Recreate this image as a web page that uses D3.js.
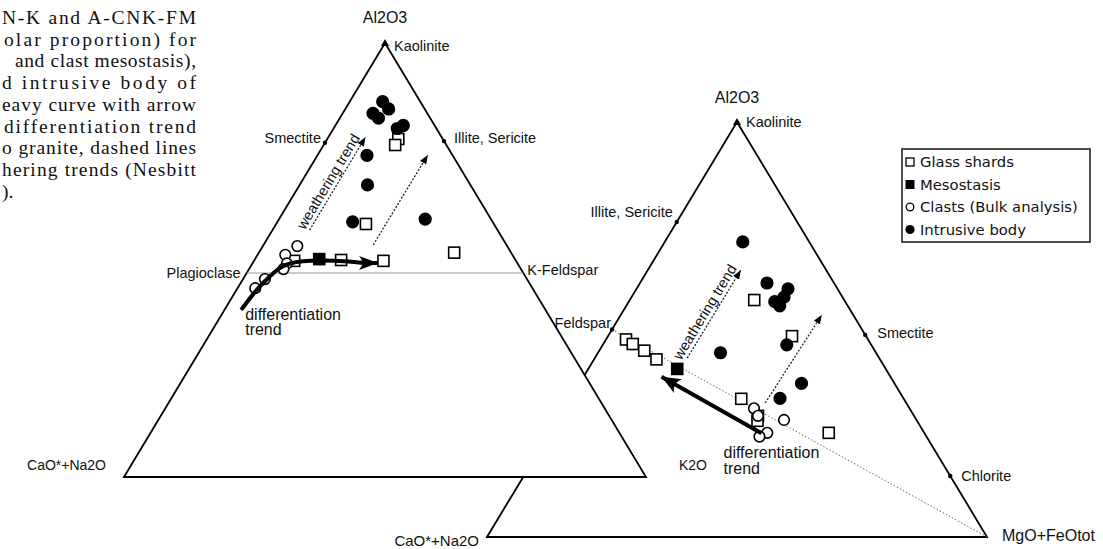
<!DOCTYPE html>
<html><head><meta charset="utf-8">
<script src="https://cdn.jsdelivr.net/npm/d3@7"></script>
<style>body{margin:0;background:#fff}svg{display:block}</style>
</head><body>
<svg id="c" width="1103" height="549"></svg>
<script>
// ================= DATA =================
// Left diagram A-CN-K : Al2O3 (A) and K2O (K) in molar %, CN = 100 - A - K
const acnkGlassA = [77.9, 76.5, 58.3, 51.7, 49.8, 50.0, 49.8];
const acnkGlassK = [13.6, 13.7, 17.2, 37.4, 24.8, 16.6, 7.7];
const acnkMesoA  = [50.2];
const acnkMesoK  = [12.3];
const acnkClastA = [53.2, 51.2, 49.2, 47.9, 45.6, 43.5];
const acnkClastK = [6.6, 5.3, 6.6, 6.6, 4.2, 3.4];
const acnkIntrA  = [86.5, 84.8, 83.8, 82.7, 80.3, 81.0, 74.1, 67.3, 58.8, 59.4];
const acnkIntrK  = [6.3, 8.3, 5.8, 7.4, 12.2, 13.0, 9.5, 13.0, 14.4, 28.0];
// trends (A, K)
const acnkDiffTrend = [[38.5,3.2],[42.9,3.7],[45.9,4.7],[48.2,5.6],[49.3,7.1],[49.8,9.2],[49.9,12.6],[49.8,17.5],[49.3,20.9],[49.3,24.0]];
const acnkWeathTrends = [[[56.9,7.1],[78.3,7.1]], [[53.5,21.0],[74.2,21.1]]];
// reference minerals (A, K)
const acnkMinerals = [["Kaolinite",100,0],["Smectite",77,0],["Illite, Sericite",77.4,22.6]];
const acnkFeldsparLine = [[47,0],[47,53]];

// Right diagram A-CNK-FM : Al2O3 (A) and MgO+FeOtot (FM), CNK = 100 - A - FM
const afmGlassA = [57.1, 48.4, 33.3, 25.1, 47.6, 46.5, 44.9, 42.8, 29.2, 28.0];
const afmGlassF = [24.9, 36.8, 34.2, 55.8, 4.0, 5.9, 9.0, 12.5, 39.6, 40.1];
const afmMesoA  = [40.5];
const afmMesoF  = [17.8];
const afmClastA = [31.0, 29.2, 28.2, 25.1, 24.2];
const afmClastF = [37.9, 39.6, 45.3, 43.5, 42.4];
const afmIntrA  = [71.1, 61.2, 59.8, 57.8, 56.7, 55.7, 44.4, 46.3, 37.0, 33.4];
const afmIntrF  = [15.6, 25.4, 30.3, 30.5, 29.2, 30.7, 24.5, 36.8, 44.4, 41.9];
const afmDiffTrend = [[25.0,42.4],[38.6,15.6]];
const afmWeathTrends = [[[43.1,18.5],[64.3,18.6]], [[32.3,39.5],[53.5,40.2]]];
const afmMinerals = [["Kaolinite",100,0],["Illite, Sericite",75.9,0],["Feldspar",50,0],["Smectite",48.7,51.3],["Chlorite",14.7,85.3]];
const afmFeldsparLine = [[50,0],[0,100]];

const legendItems = ["Glass shards","Mesostasis","Clasts (Bulk analysis)","Intrusive body"];
const captionLines = ["N-K and A-CNK-FM","olar proportion) for","and clast mesostasis),","d intrusive body of","eavy curve with arrow","differentiation trend","o granite, dashed lines","hering trends (Nesbitt",")."];

// ================= LAYOUT =================
const LT = {apex:[385,43], left:[124,477], right:[646,477]};
const RT = {apex:[737,122], left:[487,537], right:[987,537]};
const lx = d3.scaleLinear().domain([0,100]).range([LT.left[0], LT.right[0]]);
const ly = d3.scaleLinear().domain([0,100]).range([LT.left[1], LT.apex[1]]);
const rx = d3.scaleLinear().domain([0,100]).range([RT.left[0], RT.right[0]]);
const ry = d3.scaleLinear().domain([0,100]).range([RT.left[1], RT.apex[1]]);
const pL = (a,k) => [lx(k + a/2), ly(a)];
const pR = (a,f) => [rx(f + a/2), ry(a)];

const SANS = "'Liberation Sans', Arial, Helvetica, sans-serif";
const svg = d3.select('#c');
const defs = svg.append('defs');
function marker(id, d, w, h){
  defs.append('marker').attr('id',id)
    .attr('viewBox', `${-w} ${-h/2} ${w+1} ${h}`)
    .attr('refX',0).attr('refY',0)
    .attr('markerWidth', w+1).attr('markerHeight', h)
    .attr('markerUnits','userSpaceOnUse').attr('orient','auto')
    .append('path').attr('d', d).attr('fill','#000');
}
marker('small', 'M0,0 L-9,-3.6 L-9,3.6 Z', 9, 8);
marker('bigL', 'M0,0 L-19,-7 Q-12,0 -19,7 Z', 19, 14);
marker('bigR', 'M0,0 L-19,-8 Q-12,0 -19,8 Z', 19, 16);

const line = d3.line();

function label(g, txt, x, y, anchor, size){
  return g.append('text').attr('x',x).attr('y',y).attr('text-anchor',anchor||'start')
    .attr('font-family',SANS).attr('font-size',size||14.5).attr('fill','#111').text(txt);
}

function drawPoints(g, proj, A, B, type){
  const data = A.map((a,i)=>proj(a,B[i]));
  const sel = g.selectAll(null).data(data).enter();
  if(type==='sq' || type==='fsq'){
    sel.append('rect').attr('x',d=>d[0]-5.5).attr('y',d=>d[1]-5.5).attr('width',11).attr('height',11)
      .attr('fill', type==='fsq' ? '#000' : '#fff').attr('stroke','#000').attr('stroke-width',1.6);
  } else {
    sel.append('circle').attr('cx',d=>d[0]).attr('cy',d=>d[1]).attr('r', type==='fc' ? 5.8 : 5.3)
      .attr('fill', type==='fc' ? '#000' : '#fff').attr('stroke','#000').attr('stroke-width',1.6);
  }
}

function weathering(g, proj, trends, withText){
  trends.forEach((t,i)=>{
    const pts = t.map(d=>proj(d[0],d[1]));
    g.append('path').attr('d', line(pts)).attr('fill','none').attr('stroke','#222')
      .attr('stroke-width',1.3).attr('stroke-dasharray','2,1.6').attr('marker-end','url(#small)');
    if(i===0 && withText){
      const [a,b] = pts;
      const dx=b[0]-a[0], dy=b[1]-a[1], len=Math.hypot(dx,dy);
      const ux=dx/len, uy=dy/len;
      const nx=uy, ny=-ux; // normal pointing to the upper-left side
      const mx=(a[0]+b[0])/2 + nx*4 - ux*3, my=(a[1]+b[1])/2 + ny*4 - uy*3;
      const ang = Math.atan2(dy,dx)*180/Math.PI;
      g.append('text').attr('transform',`translate(${mx},${my}) rotate(${ang})`)
        .attr('text-anchor','middle').attr('font-family',SANS).attr('font-size',14.5).attr('fill','#111')
        .text('weathering trend');
    }
  });
}

// ================= RIGHT PANEL (A-CNK-FM) =================
const gR = svg.append('g');
const rA = pR(100,0), rC = pR(0,0), rF = pR(0,100);
gR.append('path').attr('d', line([rC, rA, rF]) + 'Z').attr('fill','#fff').attr('stroke','#000').attr('stroke-width',1.8);
gR.append('path').attr('d', line(afmFeldsparLine.map(d=>pR(d[0],d[1])))).attr('stroke','#666')
  .attr('stroke-width',1).attr('stroke-dasharray','1.5,2').attr('fill','none');
weathering(gR, pR, afmWeathTrends, true);
drawPoints(gR, pR, afmGlassA, afmGlassF, 'sq');
drawPoints(gR, pR, afmMesoA, afmMesoF, 'fsq');
drawPoints(gR, pR, afmClastA, afmClastF, 'oc');
drawPoints(gR, pR, afmIntrA, afmIntrF, 'fc');
gR.append('path').attr('d', line(afmDiffTrend.map(d=>pR(d[0],d[1])))).attr('stroke','#000')
  .attr('stroke-width',4).attr('fill','none').attr('marker-end','url(#bigR)');
afmMinerals.forEach(m=>{
  const p = pR(m[1],m[2]);
  if(m[0]==='Kaolinite'){
    gR.append('path').attr('d',`M${p[0]},${p[1]-4} L${p[0]-4},${p[1]+3} L${p[0]+4},${p[1]+3} Z`).attr('fill','#000');
  } else {
    gR.append('circle').attr('cx',p[0]).attr('cy',p[1]).attr('r',2.2).attr('fill','#000');
  }
});
{
  const k = pR(100,0), il = pR(75.9,0), fe = pR(50,0), sm = pR(48.7,51.3), ch = pR(14.7,85.3);
  label(gR,'Al2O3', k[0], k[1]-19, 'middle', 16);
  label(gR,'Kaolinite', k[0]+9, k[1]+5);
  label(gR,'Illite, Sericite', il[0]-4, il[1]-5, 'end');
  label(gR,'Feldspar', fe[0]-1, fe[1]-2, 'end');
  label(gR,'Smectite', sm[0]+12, sm[1]+3);
  label(gR,'Chlorite', ch[0]+11, ch[1]+5);
  label(gR,'MgO+FeOtot', rF[0]+15, rF[1]+4, 'start', 16);
  label(gR,'CaO*+Na2O', rC[0]-8, rC[1]+9, 'end', 15);
  const t = pR(25.0,42.4);
  label(gR,'differentiation', t[0]-38, t[1]+25, 'start', 16);
  label(gR,'trend', t[0]-38, t[1]+41, 'start', 16);
}

// ================= LEFT PANEL (A-CN-K) =================
const gL = svg.append('g');
const lA = pL(100,0), lC = pL(0,0), lK = pL(0,100);
gL.append('path').attr('d', line([lC, lA, lK]) + 'Z').attr('fill','#fff').attr('stroke','#000').attr('stroke-width',1.8);
gL.append('path').attr('d', line(acnkFeldsparLine.map(d=>pL(d[0],d[1])))).attr('stroke','#999')
  .attr('stroke-width',1.1).attr('fill','none');
weathering(gL, pL, acnkWeathTrends, true);
drawPoints(gL, pL, acnkGlassA, acnkGlassK, 'sq');
drawPoints(gL, pL, acnkMesoA, acnkMesoK, 'fsq');
drawPoints(gL, pL, acnkClastA, acnkClastK, 'oc');
drawPoints(gL, pL, acnkIntrA, acnkIntrK, 'fc');
gL.append('path').attr('d', d3.line().curve(d3.curveBasis)(acnkDiffTrend.map(d=>pL(d[0],d[1]))))
  .attr('stroke','#000').attr('stroke-width',4).attr('fill','none').attr('marker-end','url(#bigL)');
acnkMinerals.forEach(m=>{
  const p = pL(m[1],m[2]);
  if(m[0]==='Kaolinite'){
    gL.append('path').attr('d',`M${p[0]},${p[1]-4} L${p[0]-4},${p[1]+3} L${p[0]+4},${p[1]+3} Z`).attr('fill','#000');
  } else {
    gL.append('circle').attr('cx',p[0]).attr('cy',p[1]).attr('r',2.2).attr('fill','#000');
  }
});
{
  const k = pL(100,0), sm = pL(77,0), il = pL(77.4,22.6);
  const pl = pL(acnkFeldsparLine[0][0],acnkFeldsparLine[0][1]);
  const kf = pL(acnkFeldsparLine[1][0],acnkFeldsparLine[1][1]);
  label(gL,'Al2O3', k[0], k[1]-20, 'middle', 16);
  label(gL,'Kaolinite', k[0]+9, k[1]+8);
  label(gL,'Smectite', sm[0]-4, sm[1], 'end');
  label(gL,'Illite, Sericite', il[0]+10, il[1]+2);
  label(gL,'Plagioclase', pl[0]-6, pl[1]+5, 'end');
  label(gL,'K-Feldspar', kf[0]+4, kf[1]+2);
  label(gL,'CaO*+Na2O', lC[0]-18, lC[1]-7, 'end', 14);
  label(gL,'K2O', lK[0]+33, lK[1]-7, 'start', 14);
  const t = pL(38.5,3.2);
  label(gL,'differentiation', t[0]+4, t[1]+10, 'start', 16);
  label(gL,'trend', t[0]+4, t[1]+25, 'start', 16);
}

// ================= LEGEND =================
const gLeg = svg.append('g');
gLeg.append('rect').attr('x',902).attr('y',149).attr('width',188).attr('height',93)
  .attr('fill','#fff').attr('stroke','#222').attr('stroke-width',1.6);
legendItems.forEach((name,i)=>{
  const y = 162 + i*22.5;
  const x = 910;
  if(i===0) gLeg.append('rect').attr('x',x-4).attr('y',y-4).attr('width',8).attr('height',8).attr('fill','#fff').attr('stroke','#000').attr('stroke-width',1.3);
  if(i===1) gLeg.append('rect').attr('x',x-4.5).attr('y',y-4.5).attr('width',9).attr('height',9).attr('fill','#000');
  if(i===2) gLeg.append('circle').attr('cx',x).attr('cy',y).attr('r',3.8).attr('fill','#fff').attr('stroke','#000').attr('stroke-width',1.3);
  if(i===3) gLeg.append('circle').attr('cx',x).attr('cy',y).attr('r',4.6).attr('fill','#000');
  gLeg.append('text').attr('x',920).attr('y',y+5).attr('font-family',"'DejaVu Sans', sans-serif")
    .attr('font-size',14.8).attr('fill','#111').text(name);
});

// ================= CAPTION (cropped) =================
const gCap = svg.append('g');
const capStart = [2,4,15,2,2,4,2,2,2];
captionLines.forEach((t,i)=>{
  const el = gCap.append('text').attr('x',capStart[i]).attr('y',24 + i*21.7)
    .attr('font-family',"'Liberation Serif', 'Times New Roman', serif").attr('font-size',19.5)
    .attr('fill','#111').text(t);
  if(i < captionLines.length-1) el.attr('textLength', 196 - capStart[i]).attr('lengthAdjust','spacing');
});
</script>
</body></html>
